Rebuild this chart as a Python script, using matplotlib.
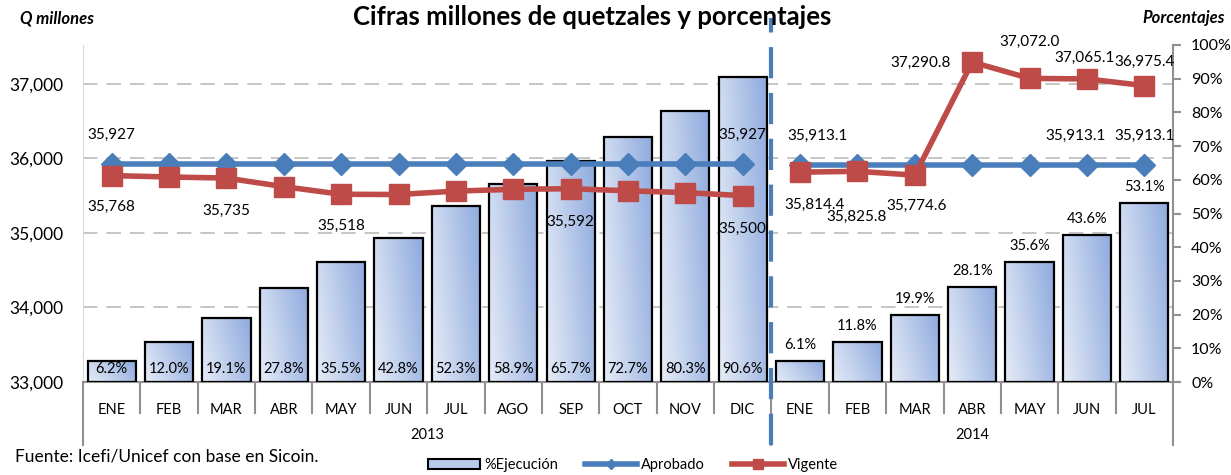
import numpy as np
import matplotlib.pyplot as plt
import matplotlib.transforms as mtransforms
from matplotlib.colors import LinearSegmentedColormap
from matplotlib.patches import Patch
from matplotlib.lines import Line2D

plt.rcParams['font.family'] = ['Lato', 'DejaVu Sans']

# datos
meses = ['ENE', 'FEB', 'MAR', 'ABR', 'MAY', 'JUN', 'JUL', 'AGO', 'SEP', 'OCT', 'NOV', 'DIC',
         'ENE', 'FEB', 'MAR', 'ABR', 'MAY', 'JUN', 'JUL']
anios = ['2013', '2014']
meses_por_anio = [12, 7]
ejecucion = [6.2, 12.0, 19.1, 27.8, 35.5, 42.8, 52.3, 58.9, 65.7, 72.7, 80.3, 90.6,
             6.1, 11.8, 19.9, 28.1, 35.6, 43.6, 53.1]
aprobado = [35927, 35927, 35927, 35927, 35927, 35927, 35927, 35927, 35927, 35927, 35927, 35927,
            35913.1, 35913.1, 35913.1, 35913.1, 35913.1, 35913.1, 35913.1]
vigente = [35768, 35750, 35735, 35620, 35518, 35515, 35560, 35585, 35592, 35565, 35540, 35500,
           35814.4, 35825.8, 35774.6, 37290.8, 37072.0, 37065.1, 36975.4]

# etiquetas visibles: indice -> (formato, dx en categorias, dy en pixeles)
etq_aprobado = {0: ('{:,.0f}', 0, 29), 11: ('{:,.0f}', 0, 29), 12: ('{:,.1f}', 0.3, 29),
                17: ('{:,.1f}', -0.2, 29), 18: ('{:,.1f}', 0, 29)}
etq_vigente = {0: ('{:,.0f}', 0, -31), 2: ('{:,.0f}', 0, -33), 4: ('{:,.0f}', 0, -32),
               8: ('{:,.0f}', 0, -33), 11: ('{:,.0f}', 0, -33), 12: ('{:,.1f}', 0.25, -33),
               13: ('{:,.1f}', -0.02, -46), 14: ('{:,.1f}', 0.03, -31), 15: ('{:,.1f}', -0.9, -1),
               16: ('{:,.1f}', 0, 37), 17: ('{:,.1f}', -0.05, 21), 18: ('{:,.1f}', 0, 24)}

QMIN, QMAX = 33000, 37520
azul = '#4a7ebb'
rojo = '#be4b48'

fig = plt.figure(figsize=(12.31, 4.75), dpi=100)
ax = fig.add_axes([83 / 1231, 1 - 382 / 475, (1173 - 83) / 1231, (382 - 45) / 475])
axq = ax.twinx()
x = np.arange(len(meses))

# lineas guia detras de las barras
for q in [34000, 35000, 36000, 37000]:
    ax.axhline((q - QMIN) / (QMAX - QMIN) * 100, color='#c0c0c0', lw=1.3,
               dashes=(8, 5), zorder=0)

bars = ax.bar(x, ejecucion, width=0.84, facecolor='none', edgecolor='black', lw=1.6, zorder=3)
cmap = LinearSegmentedColormap.from_list('grad', ['#e6ecf7', '#8eaade'])
g = np.linspace(0, 1, 64)
gx, gy = np.meshgrid(g, g)
grad = 0.75 * gx + 0.25 * gy
for b in bars:
    x0, y0 = b.get_xy()
    im = ax.imshow(grad, extent=[x0, x0 + b.get_width(), y0, y0 + b.get_height()],
                   origin='lower', cmap=cmap, aspect='auto', zorder=2)
    im.set_clip_path(b)

for i, v in enumerate(ejecucion):
    if i < meses_por_anio[0]:
        ax.annotate(f'{v:.1f}%', (i, 0), xytext=(0, 13), textcoords='offset pixels',
                    ha='center', va='center', fontsize=10.5, zorder=5)
    else:
        ax.annotate(f'{v:.1f}%', (i, v), xytext=(0, 16), textcoords='offset pixels',
                    ha='center', va='center', fontsize=10.5, zorder=5)

ax.set_xlim(-0.5, len(meses) - 0.5)
ax.set_ylim(0, 100)
ax.yaxis.tick_right()
ax.set_yticks(np.arange(0, 101, 10))
ax.set_yticklabels([f'{t}%' for t in range(0, 101, 10)], fontsize=11.5)
ax.tick_params(axis='y', direction='out', length=6, width=1.5, color='#909090', pad=7,
               left=False, labelleft=False, right=True, labelright=True)
ax.set_xticks([])
ax.spines['top'].set_visible(False)
ax.spines['left'].set_color('#d9d9d9')
ax.spines['right'].set_color('#909090')
ax.spines['right'].set_linewidth(1.5)
ax.spines['bottom'].set_color('#909090')
ax.spines['bottom'].set_linewidth(1.5)

# eje de millones
axq.set_ylim(QMIN, QMAX)
axq.set_yticks([33000, 34000, 35000, 36000, 37000])
axq.set_yticklabels([f'{t:,}' for t in [33000, 34000, 35000, 36000, 37000]], fontsize=12.5)
axq.tick_params(axis='y', length=0, pad=14, left=True, labelleft=True,
                right=False, labelright=False)
for s in axq.spines.values():
    s.set_visible(False)

for i0, n in [(0, meses_por_anio[0]), (meses_por_anio[0], meses_por_anio[1])]:
    xs = x[i0:i0 + n]
    axq.plot(xs, aprobado[i0:i0 + n], color=azul, lw=4, marker='D', ms=11,
             markeredgecolor=azul, zorder=4)
    axq.plot(xs, vigente[i0:i0 + n], color=rojo, lw=4, marker='s', ms=14,
             markeredgecolor=rojo, zorder=5)

for i, (fmt, dx, dy) in etq_aprobado.items():
    axq.annotate(fmt.format(aprobado[i]), (i + dx, aprobado[i]), xytext=(0, dy),
                 textcoords='offset pixels', ha='center', va='center', fontsize=11)
for i, (fmt, dx, dy) in etq_vigente.items():
    axq.annotate(fmt.format(vigente[i]), (i + dx, vigente[i]), xytext=(0, dy),
                 textcoords='offset pixels', ha='center', va='center', fontsize=11)

# eje de categorias en dos niveles
tr = mtransforms.blended_transform_factory(ax.transData, ax.transAxes)
px = 1 / 337
for i, m in enumerate(meses):
    ax.text(i, -28 * px, m, transform=tr, ha='center', va='center', fontsize=10.5)
for i in range(1, len(meses)):
    if i != meses_por_anio[0]:
        ax.plot([i - 0.5, i - 0.5], [0, -31 * px], transform=tr, color='#909090',
                lw=1.5, clip_on=False)
for xb in [-0.5, meses_por_anio[0] - 0.5, len(meses) - 0.5]:
    ax.plot([xb, xb], [0, -63 * px], transform=tr, color='#909090', lw=1.5, clip_on=False)
inicio = 0
for a, n in zip(anios, meses_por_anio):
    ax.text(inicio + (n - 1) / 2, -53 * px, a, transform=tr, ha='center', va='center',
            fontsize=10.5)
    inicio += n

# separador de anios
ax.plot([meses_por_anio[0] - 0.5, meses_por_anio[0] - 0.5], [-63 * px, 1 + 27 * px],
        transform=tr, color=azul, lw=3, dashes=(7.5, 3.5), clip_on=False, zorder=6)

fig.text(592 / 1231, 1 - 17 / 475, 'Cifras millones de quetzales y porcentajes',
         ha='center', va='center', fontsize=18.5, fontweight='bold')
fig.text(20 / 1231, 1 - 19 / 475, 'Q millones', ha='left', va='center', fontsize=12,
         fontweight='bold', style='italic')
fig.text(1225 / 1231, 1 - 18 / 475, 'Porcentajes', ha='right', va='center', fontsize=12,
         fontweight='bold', style='italic')
fig.text(15 / 1231, 1 - 456 / 475, 'Fuente: Icefi/Unicef con base en Sicoin.',
         ha='left', va='center', fontsize=12.5)

handles = [Patch(facecolor='#b9cbea', edgecolor='black', lw=1.5),
           Line2D([], [], color=azul, lw=4, marker='D', ms=5),
           Line2D([], [], color=rojo, lw=4, marker='s', ms=7)]
fig.legend(handles, ['%Ejecución', 'Aprobado', 'Vigente'], loc='center',
           bbox_to_anchor=(633 / 1231, 1 - 465 / 475), ncol=3, frameon=False,
           fontsize=10.5, handlelength=3.6, handleheight=0.7, columnspacing=1.8,
           handletextpad=0.3)

fig.savefig('out.png', dpi=100)
